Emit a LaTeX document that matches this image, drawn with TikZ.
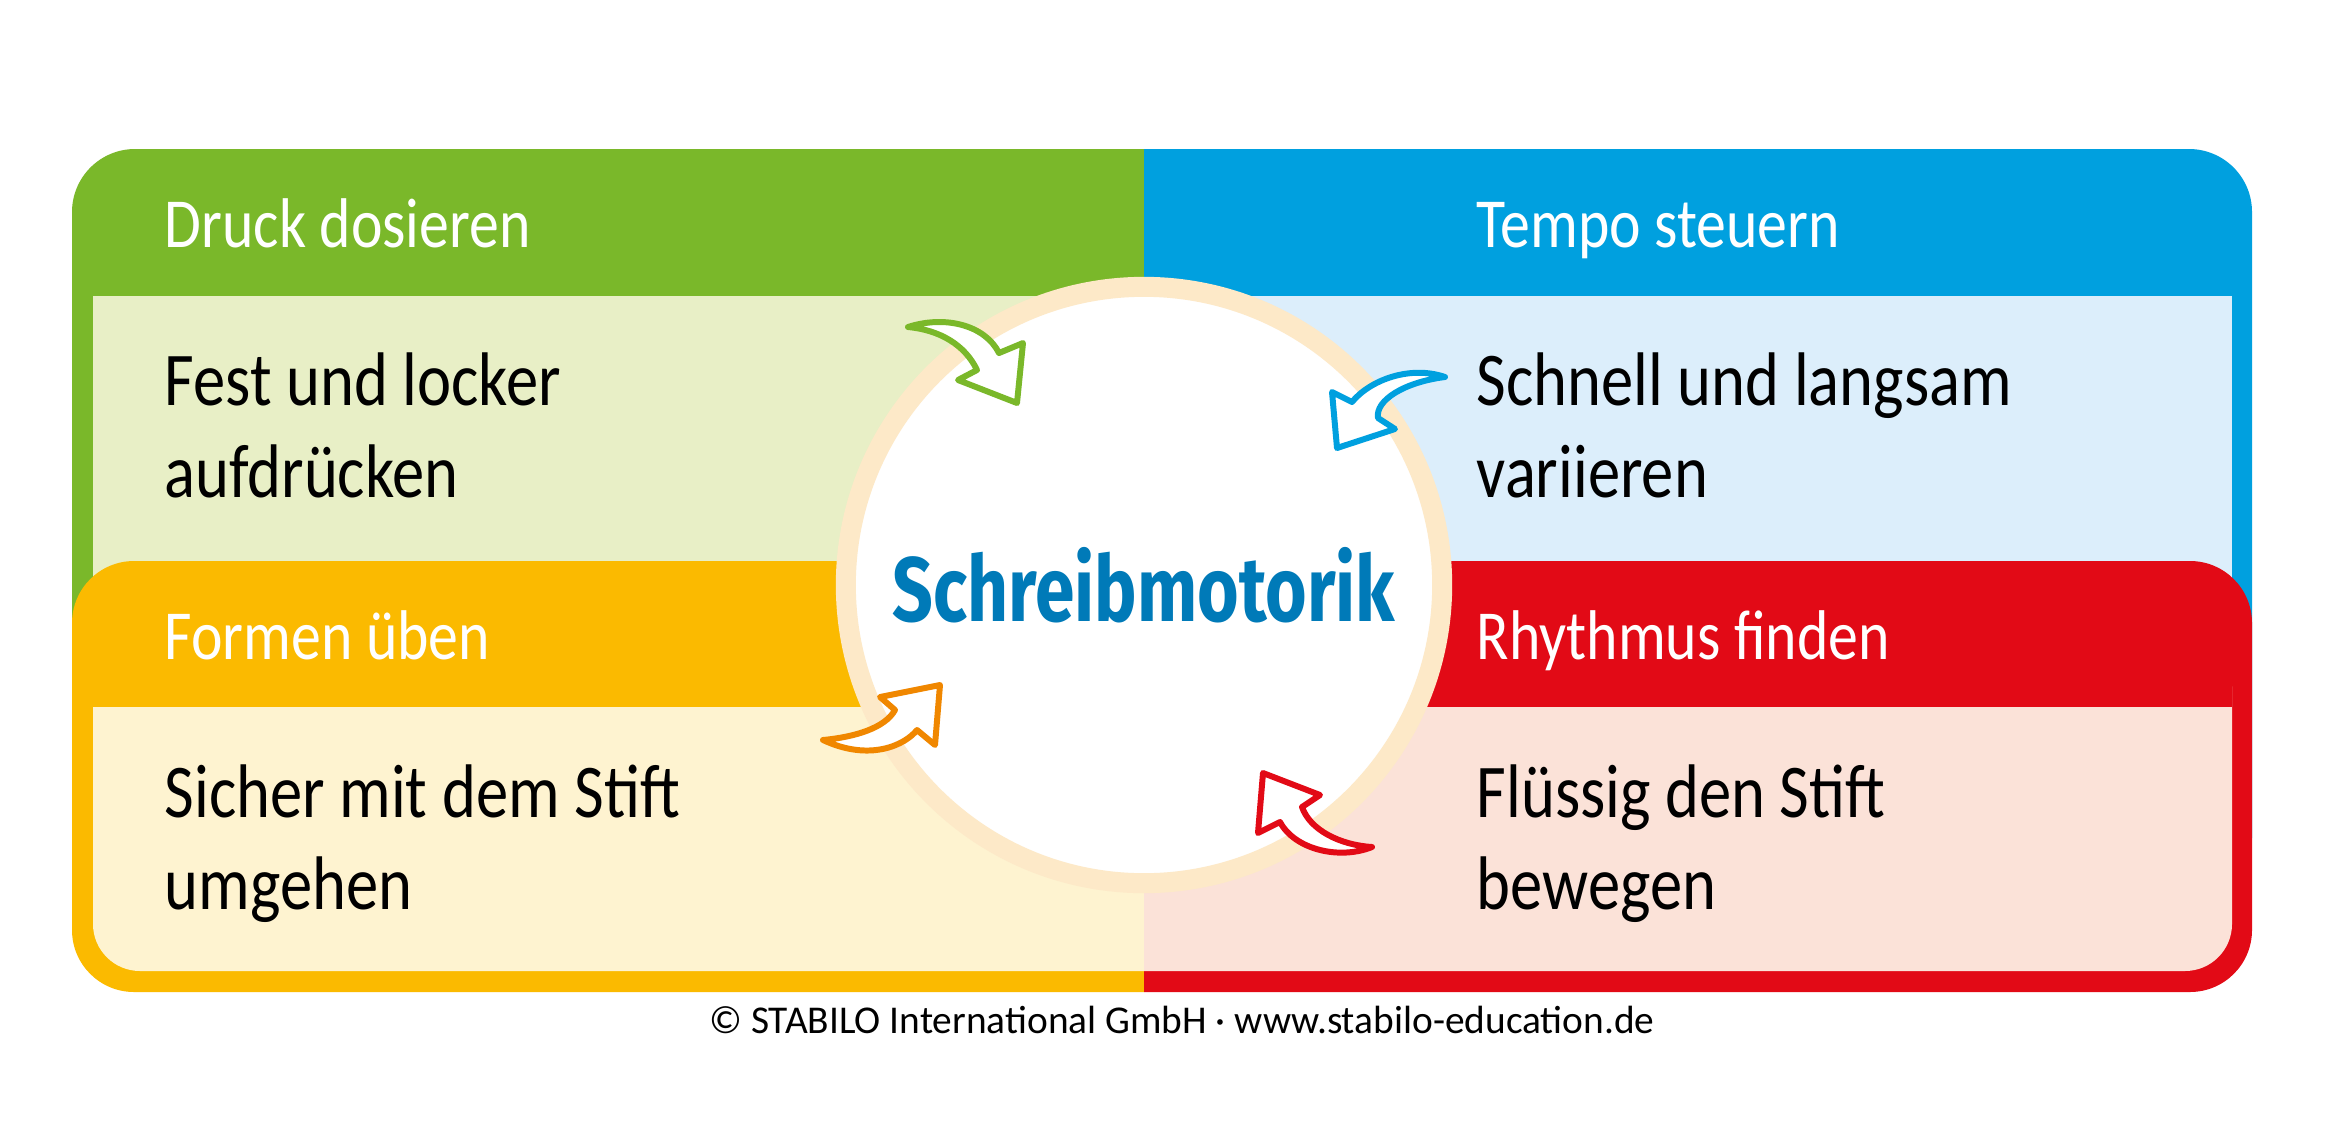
\documentclass[tikz,border=0pt]{standalone}
\usepackage{fontspec}
\setmainfont{Carlito}[FakeStretch=0.85]
\newfontfamily\handfont{Fira Sans}[FakeStretch=0.78]
\newfontfamily\footfont{Carlito}
\usepackage{tikz}
\usetikzlibrary{positioning}
\usepackage{xcolor}

\definecolor{stgreen}{RGB}{122,184,42}
\definecolor{stblue}{RGB}{0,160,223}
\definecolor{storange}{RGB}{251,186,0}
\definecolor{stred}{RGB}{226,10,22}
\definecolor{lightgreen}{RGB}{232,239,198}
\definecolor{lightblue}{RGB}{220,238,251}
\definecolor{lightyellow}{RGB}{254,243,208}
\definecolor{lightpink}{RGB}{251,226,216}
\definecolor{cream}{RGB}{253,233,200}
\definecolor{arroworange}{RGB}{240,135,0}
\definecolor{handblue}{RGB}{0,122,184}

\begin{document}
\begin{tikzpicture}[x=0.01cm, y=-0.01cm,
    head/.style={anchor=base west, inner sep=0, text=white, font=\fontsize{20}{24}\selectfont},
    body/.style={anchor=base west, inner sep=0, align=left, font=\fontsize{21.6}{25.9}\selectfont},
    swoosh/.style={draw=#1, fill=white, line width=1.7pt, line join=round}]
    \useasboundingbox[fill=white] (0,0) rectangle (2336,1136);

    % left column
    \begin{scope}
        \clip (0,0) rectangle (1144,1136);
        \fill[stgreen, rounded corners=0.63cm] (72,149) rectangle (1400,900);
        \fill[lightgreen] (93,296) rectangle (1400,900);
        \fill[storange, rounded corners=0.62cm] (72,561) rectangle (1400,992);
        \fill[lightyellow, rounded corners=0.47cm] (93,640) rectangle (1400,971);
        \fill[storange] (93,640) rectangle (1400,707);
    \end{scope}

    % right column
    \begin{scope}
        \clip (1144,0) rectangle (2336,1136);
        \fill[stblue, rounded corners=0.63cm] (900,149) rectangle (2252,900);
        \fill[lightblue] (900,296) rectangle (2232,900);
        \fill[stred, rounded corners=0.62cm] (900,561) rectangle (2252,992);
        \fill[lightpink, rounded corners=0.47cm] (900,640) rectangle (2232,971);
        \fill[stred] (900,640) rectangle (2232,707);
    \end{scope}

    % headings and texts (base = last line)
    \node[head] (druck) at (164,247) {Druck dosieren};
    \node[head] (tempo) at (1476,247) {Tempo steuern};
    \node[head] (formen) at (164,659) {Formen üben};
    \node[head] (rhythmus) at (1476,659) {Rhythmus finden};
    \node[body] (fest) at (164,497) {Fest und locker\\aufdrücken};
    \node[body] (schnell) at (1476,497) {Schnell und langsam\\variieren};
    \node[body] (sicher) at (164,909) {Sicher mit dem Stift\\umgehen};
    \node[body] (fluessig) at (1476,909) {Flüssig den Stift\\bewegen};

    % centre
    \node[circle, fill=white, draw=cream, line width=0.2cm, minimum size=5.96cm,
          text=handblue, font=\handfont\bfseries\fontsize{26}{30}\selectfont]
        (hub) at (1144,585) {Schreibmotorik};

    % arrows round the centre
    \draw[swoosh=stgreen] (908,327) .. controls (945,315) and (985,325) .. (999,353)
        -- (1023,343) -- (1017,403) -- (958,380) -- (977,370)
        .. controls (965,345) and (940,330) .. cycle;
    \draw[swoosh=stblue] (1445,377) .. controls (1410,365) and (1370,380) .. (1352,402)
        -- (1332,392) -- (1337,448) -- (1395,429) -- (1378,418)
        .. controls (1375,400) and (1405,382) .. cycle;
    \draw[swoosh=arroworange] (823,740) .. controls (855,737) and (885,728) .. (895,710)
        -- (880,697) -- (940,685) -- (935,745) -- (917,730)
        .. controls (905,745) and (870,762) .. cycle;
    \draw[swoosh=stred] (1372,847) .. controls (1340,845) and (1310,830) .. (1302,807)
        -- (1320,795) -- (1263,773) -- (1258,833) -- (1280,822)
        .. controls (1295,850) and (1340,860) .. cycle;

    \node[anchor=base, inner sep=0, font=\footfont\fontsize{11.2}{14}\selectfont] (copy) at (1182,1033)
        {© STABILO International GmbH · www.stabilo-education.de};
\end{tikzpicture}
\end{document}
